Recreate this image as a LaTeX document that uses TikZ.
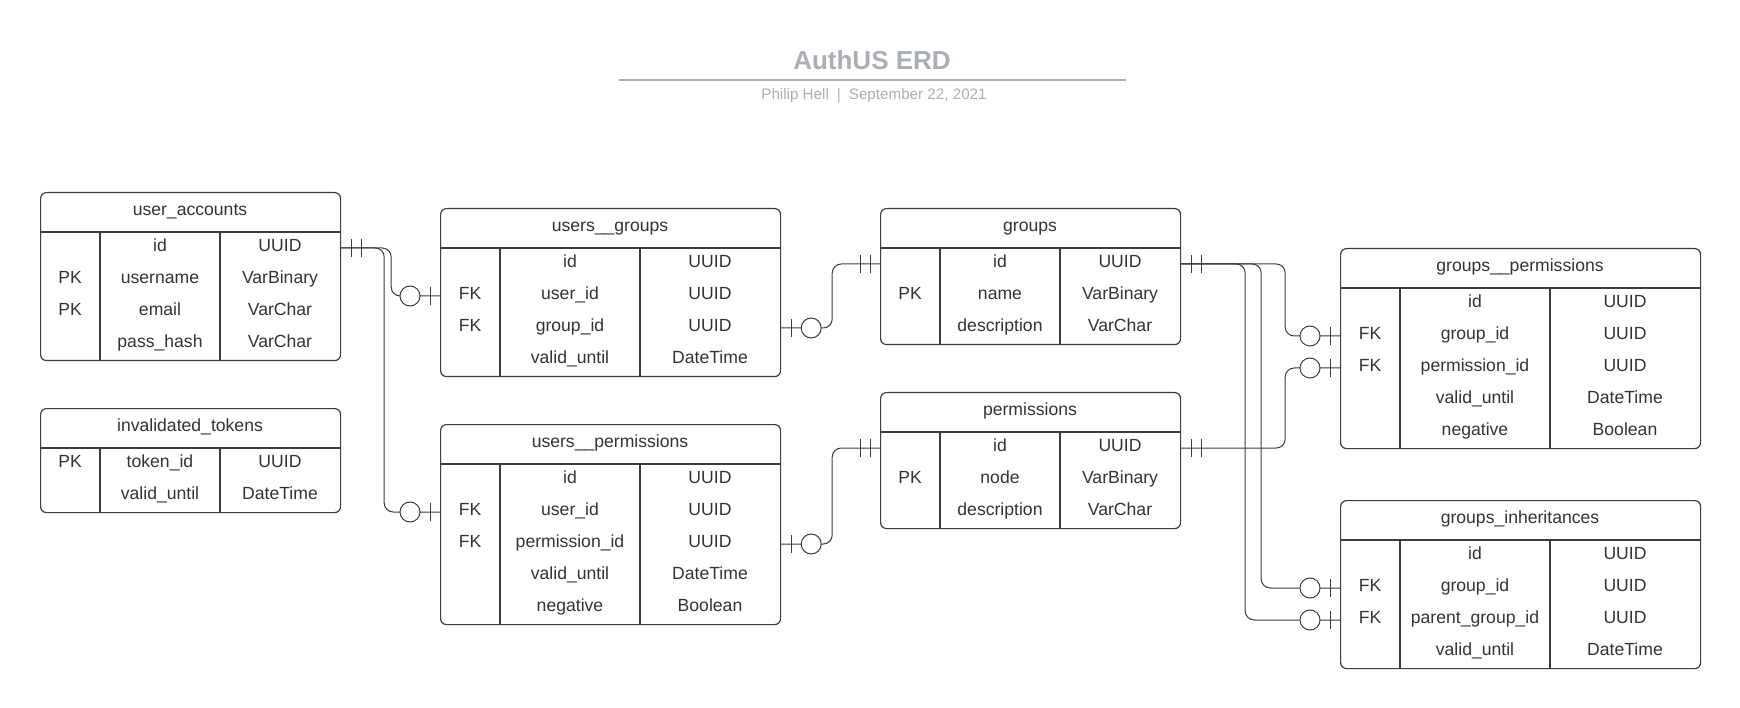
\documentclass[tikz,border=0pt]{standalone}
\usepackage{fontspec}
\setmainfont{Liberation Sans}

\definecolor{ink}{HTML}{333333}
\definecolor{edge}{HTML}{3C3C3C}
\definecolor{titlegray}{HTML}{A9AEB8}

\tikzset{
  tbl/.style={draw=edge, line width=1.2pt},
  box/.style={tbl, rounded corners=6pt, anchor=north west, inner sep=0pt},
  cell/.style={text=ink, font=\fontsize{17.6}{20}\selectfont, text height=13pt, text depth=6.2pt, inner sep=0pt},
  rel/.style={draw=edge, line width=1pt, rounded corners=9pt},
  pics/barpair/.style={code={\draw[edge, line width=1pt] (10,-9) -- (10,9) (20,-9) -- (20,9);}},
  pics/ringbar/.style={code={\draw[edge, line width=1pt] (10,-9) -- (10,9);
                             \draw[edge, line width=1pt, fill=white] (30,0) circle (10pt);}}
}

\begin{document}
\begin{tikzpicture}[x=1pt, y=-1pt]
\useasboundingbox (0,0) rectangle (1740,708);

% ===== Titre =====
\node[text=titlegray, font=\bfseries\fontsize{26}{30}\selectfont, anchor=base] (title) at (872,70) {AuthUS ERD};
\draw[titlegray, line width=2pt] (619,80) -- (1126,80);
\node[text=titlegray, font=\fontsize{15.2}{18}\selectfont, anchor=base] (byline) at (874,100)
  {Philip Hell\hspace{8pt}|\hspace{8pt}September 22, 2021};

% ===== user_accounts =====
\node[box, minimum width=300pt, minimum height=168pt] (ua) at (40,192) {};
\draw[tbl] (40,232) -- (340,232) (100,232) -- (100,360) (220,232) -- (220,360);
\node[cell] at (190,212) {user\_accounts};
\foreach \k/\f/\t [count=\i] in {/id/UUID, PK/username/VarBinary, PK/email/VarChar, /pass\_hash/VarChar}{
  \node[cell] at (70,216+32*\i) {\k};
  \node[cell] (ua-\i) at (160,216+32*\i) {\f};
  \node[cell] at (280,216+32*\i) {\t};
}

% ===== invalidated_tokens =====
\node[box, minimum width=300pt, minimum height=104pt] (it) at (40,408) {};
\draw[tbl] (40,448) -- (340,448) (100,448) -- (100,512) (220,448) -- (220,512);
\node[cell] at (190,428) {invalidated\_tokens};
\foreach \k/\f/\t [count=\i] in {PK/token\_id/UUID, /valid\_until/DateTime}{
  \node[cell] at (70,432+32*\i) {\k};
  \node[cell] (it-\i) at (160,432+32*\i) {\f};
  \node[cell] at (280,432+32*\i) {\t};
}

% ===== users__groups =====
\node[box, minimum width=340pt, minimum height=168pt] (ug) at (440,208) {};
\draw[tbl] (440,248) -- (780,248) (500,248) -- (500,376) (640,248) -- (640,376);
\node[cell] at (610,228) {users\_\_groups};
\foreach \k/\f/\t [count=\i] in {/id/UUID, FK/user\_id/UUID, FK/group\_id/UUID, /valid\_until/DateTime}{
  \node[cell] at (470,232+32*\i) {\k};
  \node[cell] (ug-\i) at (570,232+32*\i) {\f};
  \node[cell] at (710,232+32*\i) {\t};
}

% ===== users__permissions =====
\node[box, minimum width=340pt, minimum height=200pt] (up) at (440,424) {};
\draw[tbl] (440,464) -- (780,464) (500,464) -- (500,624) (640,464) -- (640,624);
\node[cell] at (610,444) {users\_\_permissions};
\foreach \k/\f/\t [count=\i] in {/id/UUID, FK/user\_id/UUID, FK/permission\_id/UUID, /valid\_until/DateTime, /negative/Boolean}{
  \node[cell] at (470,448+32*\i) {\k};
  \node[cell] (up-\i) at (570,448+32*\i) {\f};
  \node[cell] at (710,448+32*\i) {\t};
}

% ===== groups =====
\node[box, minimum width=300pt, minimum height=136pt] (gr) at (880,208) {};
\draw[tbl] (880,248) -- (1180,248) (940,248) -- (940,344) (1060,248) -- (1060,344);
\node[cell] at (1030,228) {groups};
\foreach \k/\f/\t [count=\i] in {/id/UUID, PK/name/VarBinary, /description/VarChar}{
  \node[cell] at (910,232+32*\i) {\k};
  \node[cell] (gr-\i) at (1000,232+32*\i) {\f};
  \node[cell] at (1120,232+32*\i) {\t};
}

% ===== permissions =====
\node[box, minimum width=300pt, minimum height=136pt] (pe) at (880,392) {};
\draw[tbl] (880,432) -- (1180,432) (940,432) -- (940,528) (1060,432) -- (1060,528);
\node[cell] at (1030,412) {permissions};
\foreach \k/\f/\t [count=\i] in {/id/UUID, PK/node/VarBinary, /description/VarChar}{
  \node[cell] at (910,416+32*\i) {\k};
  \node[cell] (pe-\i) at (1000,416+32*\i) {\f};
  \node[cell] at (1120,416+32*\i) {\t};
}

% ===== groups__permissions =====
\node[box, minimum width=360pt, minimum height=200pt] (gp) at (1340,248) {};
\draw[tbl] (1340,288) -- (1700,288) (1400,288) -- (1400,448) (1550,288) -- (1550,448);
\node[cell] at (1520,268) {groups\_\_permissions};
\foreach \k/\f/\t [count=\i] in {/id/UUID, FK/group\_id/UUID, FK/permission\_id/UUID, /valid\_until/DateTime, /negative/Boolean}{
  \node[cell] at (1370,272+32*\i) {\k};
  \node[cell] (gp-\i) at (1475,272+32*\i) {\f};
  \node[cell] at (1625,272+32*\i) {\t};
}

% ===== groups_inheritances =====
\node[box, minimum width=360pt, minimum height=168pt] (gi) at (1340,500) {};
\draw[tbl] (1340,540) -- (1700,540) (1400,540) -- (1400,668) (1550,540) -- (1550,668);
\node[cell] at (1520,520) {groups\_inheritances};
\foreach \k/\f/\t [count=\i] in {/id/UUID, FK/group\_id/UUID, FK/parent\_group\_id/UUID, /valid\_until/DateTime}{
  \node[cell] at (1370,524+32*\i) {\k};
  \node[cell] (gi-\i) at (1475,524+32*\i) {\f};
  \node[cell] at (1625,524+32*\i) {\t};
}

% ===== Relations =====
\draw[rel] (ua.east |- ua-1) -- ++(50,0) |- (ug.west |- ug-2);
\draw[rel] (ua.east |- ua-1) -- ++(43,0) |- (up.west |- up-2);
\draw[rel] (ug.east |- ug-3) -- ++(51,0) |- (gr.west |- gr-1);
\draw[rel] (up.east |- up-3) -- ++(51,0) |- (pe.west |- pe-1);
\draw[rel] (gr.east |- gr-1) -- ++(104,0) |- (gp.west |- gp-2);
\draw[rel] (pe.east |- pe-1) -- ++(104,0) |- (gp.west |- gp-3);
\draw[rel] (gr.east |- gr-1) -- ++(80,0) |- (gi.west |- gi-2);
\draw[rel] (gr.east |- gr-1) -- ++(64,0) |- (gi.west |- gi-3);

% cardinalites
\pic at (ua.east |- ua-1) {barpair};
\pic[xscale=-1] at (ug.west |- ug-2) {ringbar};
\pic[xscale=-1] at (up.west |- up-2) {ringbar};
\pic at (ug.east |- ug-3) {ringbar};
\pic[xscale=-1] at (gr.west |- gr-1) {barpair};
\pic at (up.east |- up-3) {ringbar};
\pic[xscale=-1] at (pe.west |- pe-1) {barpair};
\pic at (gr.east |- gr-1) {barpair};
\pic at (pe.east |- pe-1) {barpair};
\pic[xscale=-1] at (gp.west |- gp-2) {ringbar};
\pic[xscale=-1] at (gp.west |- gp-3) {ringbar};
\pic[xscale=-1] at (gi.west |- gi-2) {ringbar};
\pic[xscale=-1] at (gi.west |- gi-3) {ringbar};

\end{tikzpicture}
\end{document}
